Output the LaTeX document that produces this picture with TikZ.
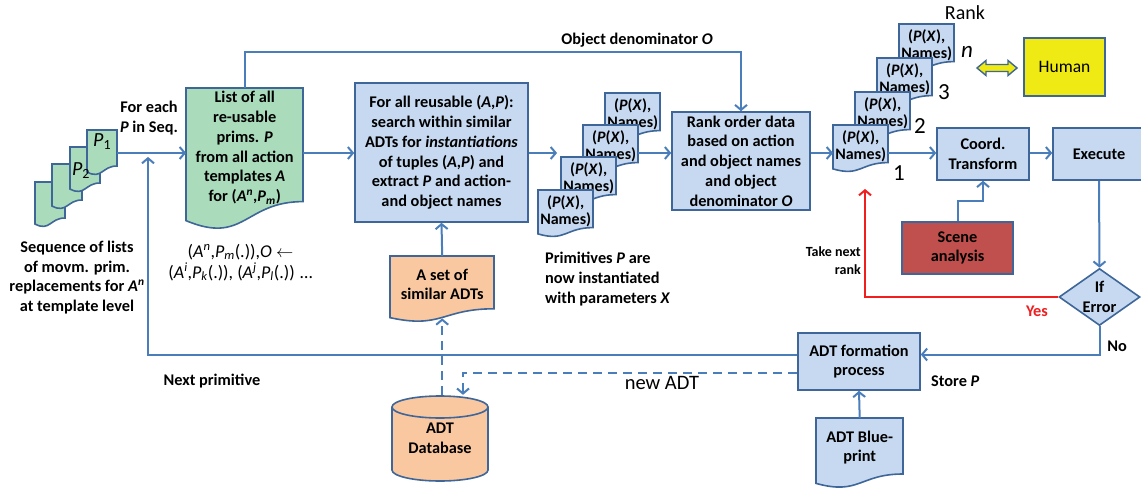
\documentclass[tikz,border=0pt]{standalone}
\usepackage{fontspec}
\setmainfont{Carlito}
\usetikzlibrary{arrows.meta,calc,shapes.geometric}
\definecolor{lnblue}{RGB}{74,126,187}
\definecolor{shblue}{RGB}{62,102,152}
\definecolor{fillblue}{RGB}{198,217,241}
\definecolor{fillgreen}{RGB}{170,220,188}
\definecolor{fillorange}{RGB}{250,200,160}
\definecolor{fillred}{RGB}{192,80,77}
\definecolor{fillyellow}{RGB}{240,234,20}
\definecolor{errred}{RGB}{240,30,30}
\newcommand{\fsz}[2]{\fontsize{#1}{#2}\selectfont}
\newcommand{\docshp}[5]{%
  \filldraw[docsty,#5] (#1,#2) -- ({#1+#3},#2) -- ({#1+#3},{#2+0.8*#4})
    .. controls ({#1+0.5*#3},{#2+0.8*#4}) and ({#1+0.5*#3},{#2+1.107*#4}) .. (#1,{#2+0.934*#4}) -- cycle;}
\begin{document}
\begin{tikzpicture}[x=1pt,y=-1pt,
  docsty/.style={draw=shblue,line width=1.6pt,fill=fillblue},
  boxsty/.style={draw=shblue,line width=1.6pt,fill=fillblue,inner sep=0pt,align=center,font=\bfseries\fsz{16.3}{19.8}},
  dtext/.style={inner sep=0pt,align=center,anchor=north west,font=\bfseries\fsz{16.3}{19}},
  stext/.style={inner sep=0pt,align=center,anchor=north west,font=\bfseries\fsz{16}{17.5},minimum width=55pt,minimum height=42pt},
  lbl/.style={inner sep=0pt,align=center,font=\bfseries\fsz{16.3}{19.8}},
  reg/.style={inner sep=0pt,align=center,font=\fsz{18}{21}},
  conn/.style={draw=lnblue,line width=2pt,-{Straight Barb[length=5pt,width=12pt]}},
  dsh/.style={dash pattern=on 9pt off 6pt}]
\useasboundingbox (0,0) rectangle (1141,489);
\coordinate (row) at (0,153);

% ---- left stack of primitive lists
\docshp{35}{182}{30}{45}{fill=fillgreen}
\docshp{52}{164}{30}{45}{fill=fillgreen}
\docshp{70}{147}{30}{45}{fill=fillgreen}
\docshp{87}{130}{30}{45}{fill=fillgreen}
\node[inner sep=0pt,minimum width=30pt,minimum height=22pt,anchor=north west,font=\fsz{20}{21}] (L1) at (87,130) {\textit{P}\textsubscript{1}};
\node[inner sep=0pt,font=\fsz{20}{21}] (L2) at (81,171) {\textit{P}\textsubscript{2}};

% ---- green document
\docshp{186}{88}{117}{142}{fill=fillgreen}
\node[dtext,font=\bfseries\fsz{16.3}{19.8},minimum width=117pt,minimum height=119pt] (green) at (186,88)
  {List of all\\re-usable\\prims. \textit{P}\\from all action\\templates \textit{A}\\for (\textit{A}\textsuperscript{\textit{n}},\textit{P}\textsubscript{\textit{m}})};

% ---- search box
\node[boxsty,minimum width=173pt,minimum height=139pt] (search) at (441.5,152.5)
  {For all reusable (\textit{A},\textit{P}):\\search within similar\\ADTs for \textit{instantiations}\\of tuples (\textit{A},\textit{P}) and\\extract \textit{P} and action-\\and object names};

% ---- stack of instantiated primitives
\docshp{605}{93}{55}{47}{}
\node[stext] (xA) at (605,93) {(\textit{P}(\textit{X}),\\Names)};
\docshp{583}{125}{55}{47}{}
\node[stext] (xB) at (583,125) {(\textit{P}(\textit{X}),\\Names)};
\docshp{561}{157}{55}{47}{}
\node[stext] (xC) at (561,157) {(\textit{P}(\textit{X}),\\Names)};
\docshp{538}{190}{55}{47}{}
\node[stext] (xD) at (538,190) {(\textit{P}(\textit{X}),\\Names)};
\coordinate (sx) at (557,153);

% ---- rank box
\node[boxsty,minimum width=138pt,minimum height=98pt] (rank) at (741,161)
  {Rank order data\\based on action\\and object names\\and object\\denominator \textit{O}};

% ---- ranked stack
\docshp{899}{24}{55}{47}{}
\node[stext] (rn) at (899,24) {(\textit{P}(\textit{X}),\\Names)};
\docshp{877}{58}{55}{47}{}
\node[stext] (r3) at (877,58) {(\textit{P}(\textit{X}),\\Names)};
\docshp{855}{92}{55}{47}{}
\node[stext] (r2) at (855,92) {(\textit{P}(\textit{X}),\\Names)};
\docshp{833}{125}{55}{47}{}
\node[stext] (r1) at (833,125) {(\textit{P}(\textit{X}),\\Names)};
\node[reg,font=\fsz{20}{21}] (ranklbl) at (965,13) {Rank};
\node[reg,font=\fsz{23}{24}] (n1) at (899,173) {1};
\node[reg,font=\fsz{23}{24}] (n2) at (920,126) {2};
\node[reg,font=\fsz{23}{24}] (n3) at (944,92) {3};
\node[reg,font=\itshape\fsz{23}{24}] (nn) at (967,52) {n};

% ---- human and double arrow
\filldraw[draw=shblue,line width=1.4pt,fill=fillyellow]
  (977,68) -- (986,60.5) -- (986,64.5) -- (1008,64.5) -- (1008,60.5) -- (1017,68)
  -- (1008,75.5) -- (1008,71.5) -- (986,71.5) -- (986,75.5) -- cycle;
\node[boxsty,fill=fillyellow,font=\fsz{17.5}{20},minimum width=81pt,minimum height=58pt] (human) at (1064.5,67) {Human};

% ---- right column
\node[boxsty,minimum width=92pt,minimum height=52pt] (coord) at (983,154) {Coord.\\Transform};
\node[boxsty,minimum width=92pt,minimum height=52pt] (exec) at (1099,154) {Execute};
\node[boxsty,fill=fillred,minimum width=111pt,minimum height=52pt] (scene) at (957.5,248) {Scene\\analysis};
\node[diamond,draw=shblue,line width=1.6pt,fill=fillblue,minimum width=81pt,minimum height=57pt,inner sep=0pt] (diam) at (1099.5,297) {};
\node[lbl] (diamtxt) at (1099.5,297) {If\\Error};
\coordinate (rtip) at (865,189);

% ---- bottom
\node[boxsty,minimum width=122pt,minimum height=57pt] (adt) at (859,361.5) {ADT formation\\process};
\docshp{816}{418}{87}{70}{}
\node[dtext,minimum width=87pt,minimum height=58pt] (bp) at (816,418) {ADT Blue-\\print};

\docshp{390}{256}{104}{66}{fill=fillorange}
\node[dtext,minimum width=104pt,minimum height=56pt] (oset) at (390,256) {A set of\\similar ADTs};

% database cylinder
\filldraw[draw=shblue,line width=1.6pt,fill=fillorange] (440,470) ellipse [x radius=48, y radius=11];
\fill[fillorange] (392,407) rectangle (488,470);
\draw[shblue,line width=1.6pt] (392,407) -- (392,470) (488,407) -- (488,470);
\filldraw[draw=shblue,line width=1.6pt,fill=fillorange] (440,407) ellipse [x radius=48, y radius=11];
\node[lbl,minimum width=96pt,minimum height=86pt] (db) at (440,438) {ADT\\Database};

% ---- labels
\node[lbl] (foreach) at (149,118) {For each\\\textit{P} in Seq.};
\node[lbl] (seqtxt) at (77,277.5) {Sequence of lists\\of movm. prim.\\replacements for \textit{A}\textsuperscript{\textit{n}}\\at template level};
\node[reg] (form) at (240.5,262.5) {(\textit{A}\textsuperscript{\textit{n}},\textit{P}\textsubscript{\textit{m}}(.)),\textit{O} $\leftarrow$\\(\textit{A}\textsuperscript{\textit{i}},\textit{P}\textsubscript{\textit{k}}(.)), (\textit{A}\textsuperscript{\textit{j}},\textit{P}\textsubscript{\textit{l}}(.)) \dots};
\node[lbl] (nextp) at (212,381) {Next primitive};
\node[lbl,align=left,anchor=west] (primtxt) at (545,279) {Primitives \textit{P} are\\now instantiated\\with parameters \textit{X}};
\node[lbl] (objden) at (637,40) {Object denominator \textit{O}};
\node[reg,font=\fsz{20.5}{22}] (newadt) at (662,383) {new ADT};
\node[lbl,font=\bfseries\fsz{14}{18},align=right,anchor=east] (takenext) at (861,261) {Take next\\rank};
\node[lbl,text=errred] (yes) at (1037,311) {Yes};
\node[lbl] (no) at (1117,346) {No};
\node[lbl,anchor=west] (store) at (931,381) {Store \textit{P}};

% ---- connectors
\coordinate (uptip) at (148,157);
\draw[conn] (L1.east |- row) -- (green.west |- row);
\draw[conn] (green.east |- row) -- (search.west |- row);
\draw[conn] (search.east |- row) -- (sx);
\draw[conn] (xB.east |- row) -- (rank.west |- row);
\draw[conn] (rank.east |- row) -- (r1.west |- row);
\draw[conn] (r1.east |- row) -- (coord.west |- row);
\draw[conn] (coord.east |- row) -- (exec.west |- row);
\draw[conn] (exec.south) -- (diam.north);
\draw[conn] (scene.north) -- ++(0,-20) -| (coord.south);
\draw[conn,draw=errred] (diam.west) -| (rtip);
\draw[conn] (diam.south) |- ([yshift=7pt]adt.east);
\draw[conn] ([yshift=7pt]adt.west) -| (uptip);
\draw[conn] (green.north) -- ++(0,-36) -| (rank.north);
\draw[conn] (oset.north) -- (search.south);
\draw[conn,dsh] (oset.south |- db.north) -- ([yshift=-6pt]oset.south);
\draw[conn,dsh] ([yshift=-11pt]adt.west) -| ([xshift=23pt]db.north);
\draw[conn] (bp.north) -- (adt.south);
\end{tikzpicture}
\end{document}
